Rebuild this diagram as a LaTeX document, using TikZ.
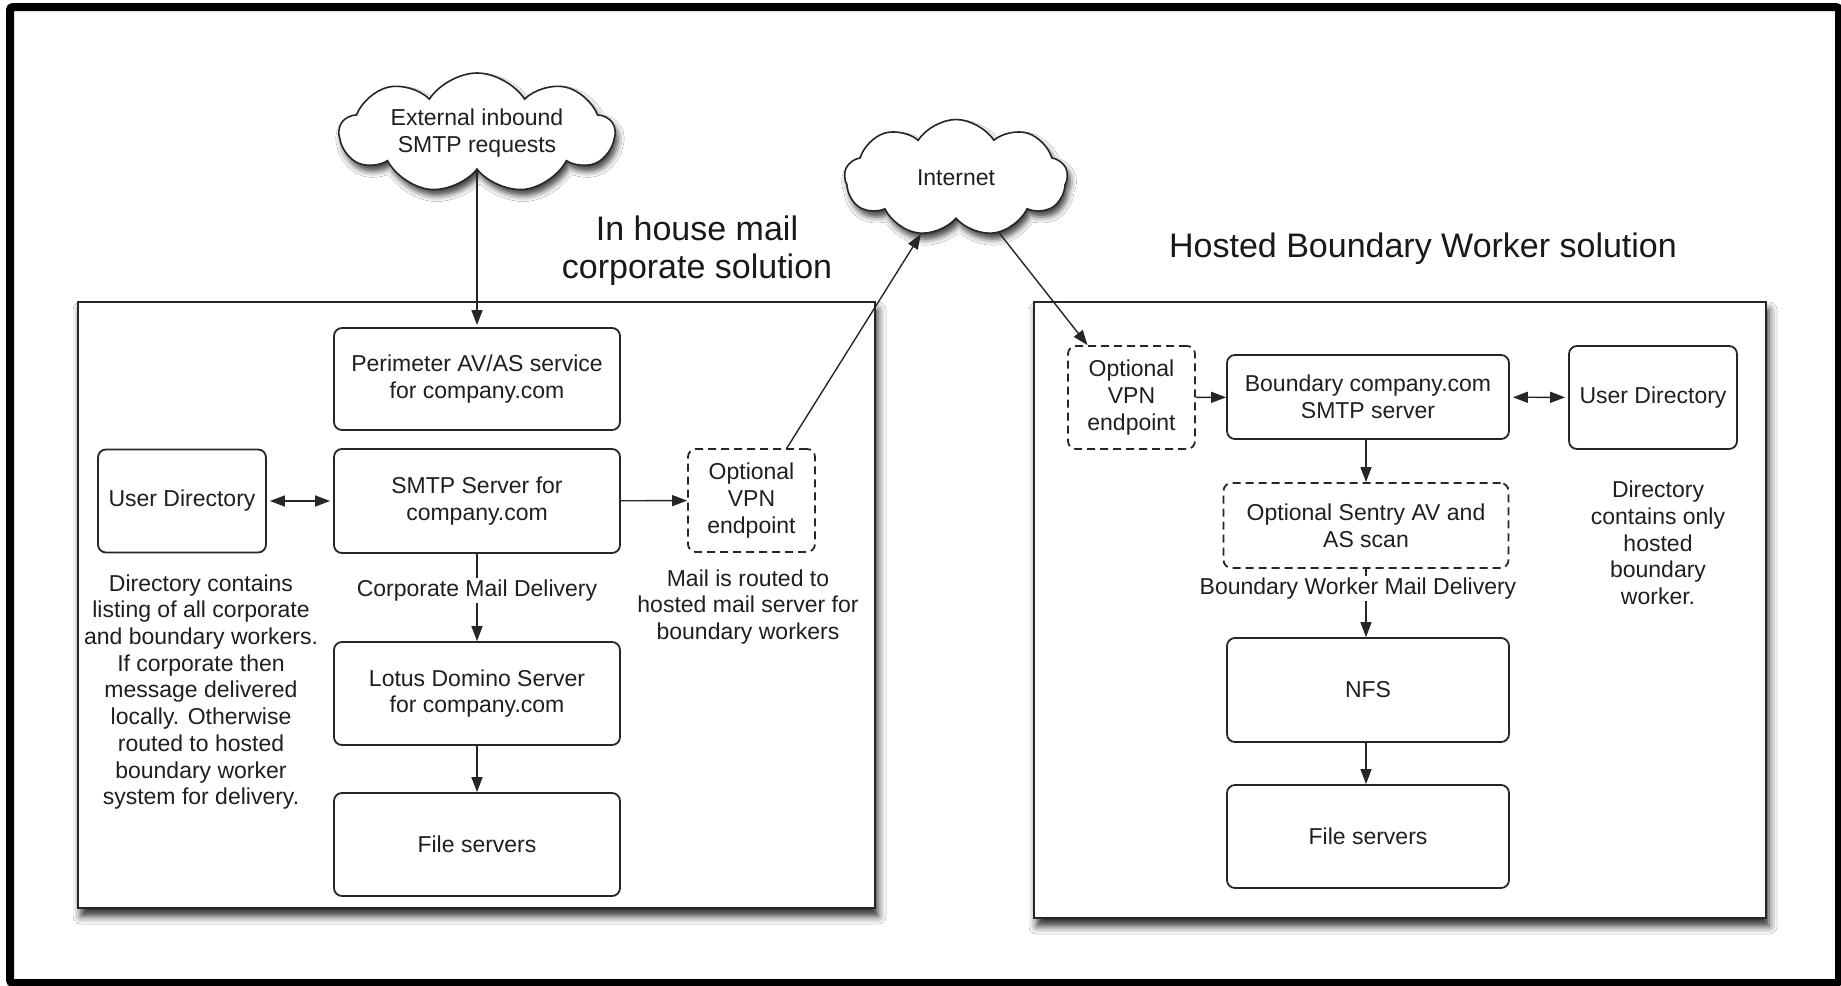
\documentclass[tikz,border=0pt]{standalone}
\usepackage{fontspec}
\setmainfont{Liberation Sans}
\usetikzlibrary{shapes.symbols,arrows.meta,shadows.blur}

\begin{document}
\begin{tikzpicture}[x=1pt,y=-1pt,
  txt/.style={font=\fontsize{23}{26.7}\selectfont, text=black!88, align=center},
  heading/.style={font=\fontsize{34}{38}\selectfont, text=black!90, align=center},
  box/.style={txt, draw=black!85, line width=1.8pt, rounded corners=8pt, fill=white, inner sep=0pt},
  optbox/.style={box, dash pattern=on 8pt off 5pt},
  container/.style={draw=black!85, line width=2pt, fill=white,
    blur shadow={shadow xshift=3pt, shadow yshift=-8pt, shadow blur radius=8pt, shadow opacity=85}},
  netcloud/.style={txt, shape=cloud, draw=black!85, line width=1.6pt, fill=white,
    cloud ignores aspect, cloud puff arc=115, inner sep=0pt,
    blur shadow={shadow xshift=3pt, shadow yshift=-6pt, shadow blur radius=6pt, shadow opacity=75}},
  tip/.tip={Triangle[length=15pt,width=11pt]},
  flow/.style={line width=1.4pt, draw=black!85, -tip},
  both/.style={flow, tip-tip, shorten <=3pt, shorten >=3pt},
  cut/.style={txt, fill=white, inner sep=1.5pt},
]
\useasboundingbox (0,0) rectangle (1841,985);
\fill[white] (0,0) rectangle (1841,985);

% outer frame
\draw[line width=8pt, rounded corners=3pt] (10,7) rectangle (1839,983);

% the two solution areas
\path[container] (78,302) rectangle (875,908);
\path[container] (1034,302) rectangle (1766,918);

% headings
\node[heading] (hin) at (697,251) {In house mail\\corporate solution};
\node[heading] (hhost) at (1423,249) {Hosted Boundary Worker solution};

% clouds
\node[netcloud, cloud puffs=9, minimum width=275pt, minimum height=120pt] (ext) at (477,133) {External inbound\\SMTP requests};
\node[netcloud, cloud puffs=9, minimum width=223pt, minimum height=117pt] (inet) at (956,178) {Internet};

% in-house side
\node[box, minimum width=286pt, minimum height=102pt] (perim) at (477,379) {Perimeter AV/AS service\\for company.com};
\node[box, minimum width=286pt, minimum height=104pt] (smtp) at (477,501) {SMTP Server for\\company.com};
\node[box, minimum width=168pt, minimum height=103pt] (udirL) at (182,501) {User Directory};
\node[optbox, minimum width=127pt, minimum height=103pt] (vpnL) at (751.5,500.5) {Optional\\VPN\\endpoint};
\node[box, minimum width=286pt, minimum height=103pt] (lotus) at (477,693.5) {Lotus Domino Server\\for company.com};
\node[box, minimum width=286pt, minimum height=103pt] (fileL) at (477,844.5) {File servers};

\node[txt] (noteL) at (201,692) {Directory contains\\listing of all corporate\\and boundary workers.\\If corporate then\\message delivered\\locally. Otherwise\\routed to hosted\\boundary worker\\system for delivery.};
\node[txt] (noteV) at (748,607) {Mail is routed to\\hosted mail server for\\boundary workers};

% hosted side
\node[optbox, minimum width=127pt, minimum height=103pt] (vpnR) at (1131.5,397.5) {Optional\\VPN\\endpoint};
\node[box, minimum width=282pt, minimum height=84pt] (bsmtp) at (1368,397) {Boundary company.com\\SMTP server};
\node[box, minimum width=168pt, minimum height=103pt] (udirR) at (1653,397.5) {User Directory};
\node[optbox, minimum width=285pt, minimum height=85pt] (sentry) at (1366,525.5) {Optional Sentry AV and\\AS scan};
\node[box, minimum width=282pt, minimum height=104pt] (nfs) at (1368,690) {NFS};
\node[box, minimum width=282pt, minimum height=103pt] (fileR) at (1368,836.5) {File servers};

\node[txt] (noteR) at (1658,543) {Directory\\contains only\\hosted\\boundary\\worker.};

% connectors, in-house side
\draw[flow, shorten >=2pt] (ext) -- (perim);
\draw[both] (udirL) -- (smtp);
\draw[flow] (smtp) -- (vpnL);
\draw[flow] (smtp) -- node[cut, pos=0.42] (lblcorp) {Corporate Mail Delivery} (lotus);
\draw[flow] (lotus) -- (fileL);
\draw[flow] (vpnL.56) -- (inet);

% connectors, hosted side
\draw[flow] (inet) -- (vpnR.130);
\draw[flow] (vpnR) -- (bsmtp);
\draw[both] (bsmtp) -- (udirR);
\draw[flow] (bsmtp.south -| sentry.center) -- (sentry);
\draw[flow] (sentry) -- node[cut, pos=0.29, xshift=-8pt] (lblbound) {Boundary Worker Mail Delivery} (sentry |- nfs.north);
\draw[flow] (nfs.south -| sentry.center) -- (sentry |- fileR.north);
\end{tikzpicture}
\end{document}
